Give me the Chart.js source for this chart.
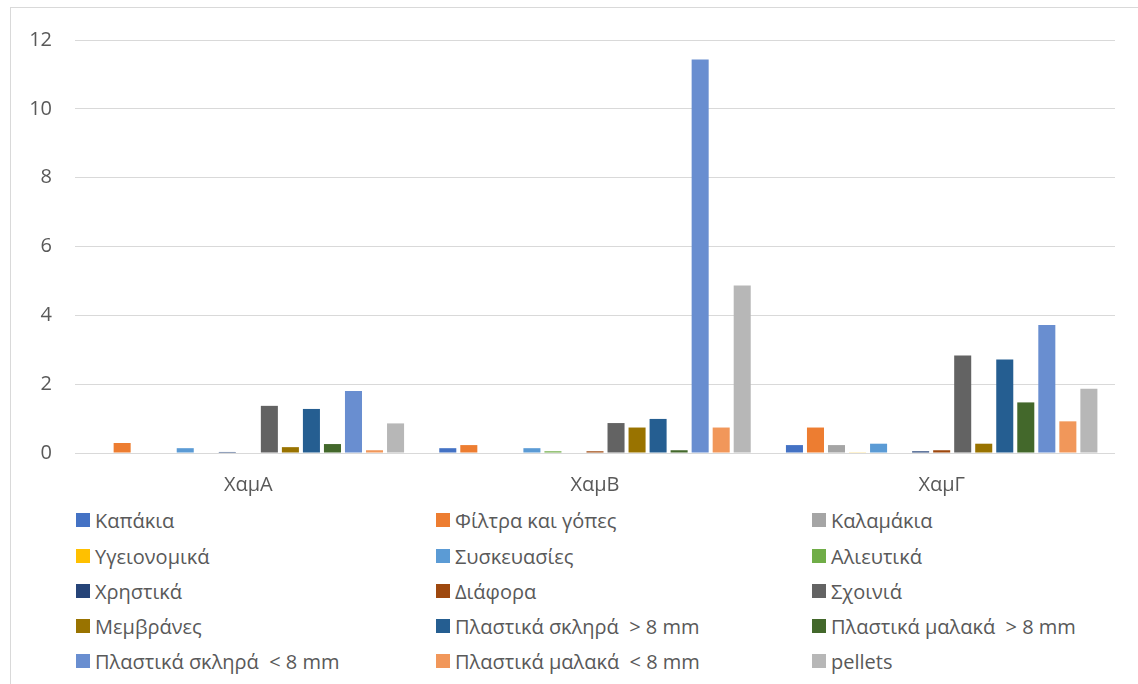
<!DOCTYPE html>
<html>
<head>
<meta charset="utf-8">
<script src="https://cdn.jsdelivr.net/npm/chart.js@4"></script>
<style>
  body { margin: 0; background: #fff; }
  #wrap { position: relative; width: 1138px; height: 684px; overflow: hidden; font-family: "Open Sans", sans-serif; }
  #frame { position: absolute; left: 10px; top: 7px; width: 1200px; height: 760px; border: 1px solid #d9d9d9; }
  #box { position: absolute; left: 0; top: 0; width: 1138px; height: 500px; }
  #legend { position: absolute; left: 0; top: 0; }
  .item { position: absolute; display: flex; align-items: center; height: 24px; font-size: 20px; color: #595959; white-space: pre; }
  .swatch { width: 14px; height: 14px; margin-right: 5px; }
</style>
</head>
<body>
<div id="wrap">
  <div id="frame"></div>
  <div id="box"><canvas id="myChart"></canvas></div>
  <div id="legend"></div>
</div>
<script>
// sampling stations
const categories = ["ΧαμΑ", "ΧαμΒ", "ΧαμΓ"];

// litter types, in legend order
const seriesNames = [
  "Καπάκια", "Φίλτρα και γόπες", "Καλαμάκια",
  "Υγειονομικά", "Συσκευασίες", "Αλιευτικά",
  "Χρηστικά", "Διάφορα", "Σχοινιά",
  "Μεμβράνες", "Πλαστικά σκληρά  > 8 mm", "Πλαστικά μαλακά  > 8 mm",
  "Πλαστικά σκληρά  < 8 mm", "Πλαστικά μαλακά  < 8 mm", "pellets"
];

const seriesColors = [
  "#4472C4", "#ED7D31", "#A5A5A5",
  "#FFC000", "#5B9BD5", "#70AD47",
  "#264478", "#9E480E", "#636363",
  "#997300", "#255E91", "#43682B",
  "#698ED0", "#F1975A", "#B7B7B7"
];

// values per station, one per litter type (same order as seriesNames)
const hamA = [0, 0.29, 0, 0, 0.14, 0, 0.03, 0, 1.37, 0.17, 1.28, 0.26, 1.80, 0.08, 0.86];
const hamB = [0.14, 0.23, 0, 0, 0.14, 0.05, 0, 0.05, 0.87, 0.74, 0.99, 0.08, 11.43, 0.74, 4.87];
const hamG = [0.23, 0.74, 0.23, 0.02, 0.27, 0, 0.05, 0.08, 2.83, 0.27, 2.72, 1.47, 3.72, 0.92, 1.87];

const yTicks = [0, 2, 4, 6, 8, 10, 12];

const textColor = "#595959";
const gridColor = "#d9d9d9";
const font = { family: "'Open Sans', sans-serif", size: 20 };

const datasets = seriesNames.map((name, i) => ({
  label: name,
  data: [hamA[i], hamB[i], hamG[i]],
  backgroundColor: seriesColors[i],
  borderWidth: 0,
  categoryPercentage: 0.91,
  barPercentage: 0.81,
}));

const ctx = document.getElementById("myChart").getContext("2d");
const myChart = new Chart(ctx, {
  type: "bar",
  data: { labels: categories, datasets: datasets },
  options: {
    responsive: true,
    maintainAspectRatio: false,
    animation: false,
    layout: { padding: { top: 40, right: 23, left: 0, bottom: 0 } },
    plugins: {
      legend: { display: false },
      tooltip: { enabled: false },
    },
    scales: {
      x: {
        grid: { display: false },
        border: { display: false },
        ticks: { color: textColor, font: font, padding: 12 },
        afterFit: (s) => { s.height = 47; },
      },
      y: {
        min: 0,
        max: 12,
        afterBuildTicks: (s) => { s.ticks = yTicks.map((v) => ({ value: v })); },
        grid: { color: gridColor, lineWidth: 1, drawTicks: false },
        border: { display: false },
        ticks: { color: textColor, font: font, padding: 23 },
        afterFit: (s) => { s.width = 75; },
      },
    },
  },
});

// legend in three columns, built from the chart's own datasets
const legendCols = [76, 436, 812];
const legendRows = [520, 556, 591, 626, 661];
const legend = document.getElementById("legend");
myChart.data.datasets.forEach((ds, i) => {
  const item = document.createElement("div");
  item.className = "item";
  item.style.left = legendCols[i % 3] + "px";
  item.style.top = (legendRows[Math.floor(i / 3)] - 12) + "px";
  const sw = document.createElement("span");
  sw.className = "swatch";
  sw.style.background = ds.backgroundColor;
  const tx = document.createElement("span");
  tx.textContent = ds.label;
  item.appendChild(sw);
  item.appendChild(tx);
  legend.appendChild(item);
});
</script>
</body>
</html>
